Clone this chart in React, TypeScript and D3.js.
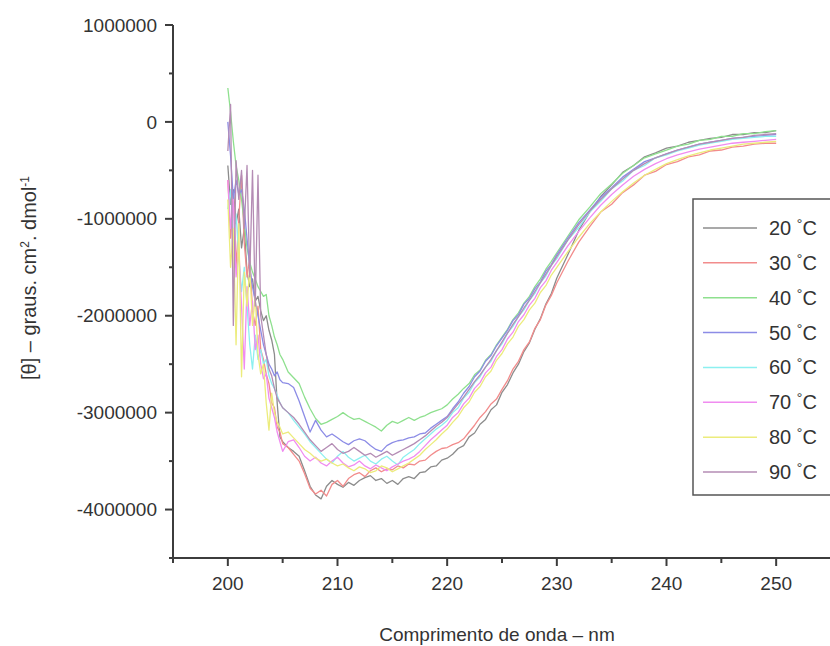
import React from "react";
import * as d3 from "d3";

// wavelength grid (nm)
const wavelengths = [
  200, 200.25, 200.5, 200.75, 201, 201.25, 201.5, 201.75, 202, 202.25,
  202.5, 202.75, 203, 203.25, 203.5, 203.75, 204, 204.25, 204.5, 204.75,
  205, 205.5, 206, 206.5, 207, 207.5, 208, 208.5, 209, 209.5,
  210, 210.5, 211, 211.5, 212, 212.5, 213, 213.5, 214, 214.5,
  215, 215.5, 216, 216.5, 217, 217.5, 218, 218.5, 219, 219.5,
  220, 220.5, 221, 221.5, 222, 222.5, 223, 223.5, 224, 224.5,
  225, 225.5, 226, 226.5, 227, 227.5, 228, 228.5, 229, 229.5,
  230, 231, 232, 233, 234, 235, 236, 237, 238, 239,
  240, 241, 242, 243, 244, 245, 246, 247, 248, 249,
  250,
];

// values in millions (x 1e6 deg cm2 dmol-1)
const UNIT = 1e6;

const t20 = [
  -0.45, -0.85, -0.7, -1.05, -0.9, -1.3, -1.1, -1.55, -1.7, -1.62,
  -1.85, -1.8, -1.95, -2.05, -2.0, -2.15, -2.25, -2.4, -2.9, -3.25,
  -3.3, -3.36, -3.4, -3.45, -3.6, -3.76, -3.85, -3.89, -3.76, -3.7,
  -3.74, -3.77, -3.72, -3.75, -3.7, -3.67, -3.65, -3.7, -3.68, -3.73,
  -3.7, -3.74, -3.68, -3.66, -3.68, -3.62, -3.61, -3.56, -3.55, -3.49,
  -3.47, -3.43, -3.37, -3.34, -3.25, -3.21, -3.12, -3.07, -2.97, -2.92,
  -2.79, -2.71, -2.59, -2.5, -2.37, -2.28, -2.14, -2.03, -1.88, -1.77,
  -1.61, -1.37, -1.12, -0.93, -0.77, -0.65, -0.52, -0.45, -0.36, -0.32,
  -0.27, -0.25, -0.21, -0.19, -0.17, -0.16, -0.13, -0.13, -0.11, -0.11,
  -0.09,
];
const t30 = [
  -0.6, -1.2, -0.75, -1.5, -1.0, -0.55, -1.25, -1.6, -1.4, -1.95,
  -2.1, -1.9, -2.35, -2.45, -2.6, -2.7, -2.9, -2.95, -3.15, -3.2,
  -3.32, -3.36, -3.43, -3.5, -3.63, -3.78, -3.84, -3.8, -3.86, -3.74,
  -3.7, -3.76, -3.68, -3.64, -3.62, -3.66, -3.6, -3.57, -3.61, -3.58,
  -3.59, -3.55, -3.57, -3.53, -3.54, -3.5, -3.49, -3.44, -3.4, -3.37,
  -3.36, -3.33, -3.31, -3.27, -3.2, -3.13, -3.05, -2.99, -2.91, -2.86,
  -2.76, -2.67, -2.55, -2.47, -2.35, -2.27, -2.13, -2.04, -1.89, -1.79,
  -1.66, -1.44, -1.24, -1.08, -0.93, -0.85, -0.73, -0.65, -0.55, -0.51,
  -0.44, -0.41, -0.36, -0.34, -0.3, -0.29, -0.26, -0.25, -0.23, -0.22,
  -0.22,
];
const t40 = [
  0.35, 0.1, -0.2, -0.45, -0.6, -0.8, -1.05, -1.3, -1.45, -1.55,
  -1.62, -1.7, -1.75, -1.8, -1.78, -2.0, -2.1, -2.22, -2.3, -2.4,
  -2.45, -2.58, -2.64, -2.7, -2.84, -2.96, -3.06, -3.12, -3.1, -3.07,
  -3.04, -3.0, -3.04, -3.07, -3.06, -3.09, -3.12, -3.15, -3.19, -3.13,
  -3.09, -3.11, -3.08, -3.05, -3.08, -3.05, -3.03, -3.0, -2.98, -2.96,
  -2.92, -2.86, -2.81, -2.75, -2.7, -2.61, -2.56, -2.46, -2.4, -2.3,
  -2.22, -2.14, -2.04, -1.97, -1.87, -1.8, -1.7, -1.62, -1.52, -1.44,
  -1.35, -1.18, -1.01, -0.88, -0.74, -0.64, -0.53, -0.45, -0.37, -0.33,
  -0.29, -0.25, -0.23, -0.19, -0.18, -0.15, -0.15, -0.12, -0.12, -0.1,
  -0.09,
];
const t50 = [
  0.0, -0.35, -0.8, -0.6, -0.75, -0.7, -0.9, -1.2, -1.5, -1.7,
  -1.85, -2.0, -2.15, -2.3, -2.4, -2.5, -2.55, -2.62, -2.58, -2.66,
  -2.69, -2.7, -2.74, -2.88, -3.04, -3.2, -3.08, -3.18, -3.25, -3.22,
  -3.26, -3.3, -3.33, -3.29, -3.27, -3.29, -3.34, -3.38, -3.4, -3.34,
  -3.31, -3.29, -3.28, -3.26, -3.25, -3.22, -3.21, -3.16, -3.12, -3.08,
  -3.04, -2.96, -2.89, -2.8, -2.73, -2.63, -2.57, -2.47, -2.41, -2.31,
  -2.23, -2.15, -2.05, -1.99, -1.88, -1.82, -1.72, -1.65, -1.54, -1.47,
  -1.37, -1.2, -1.04, -0.91, -0.78, -0.68, -0.57, -0.49, -0.41, -0.37,
  -0.33, -0.29, -0.26, -0.23, -0.21, -0.19, -0.17, -0.16, -0.15, -0.14,
  -0.13,
];
const t60 = [
  -0.9, -0.7, -1.2, -0.95, -1.4, -1.75, -1.5, -1.9, -2.3, -2.55,
  -2.2, -2.45, -2.35, -2.5, -2.45, -2.62, -2.7, -2.75, -2.82, -2.9,
  -2.95, -3.0, -3.08, -3.15, -3.22, -3.3, -3.36, -3.42, -3.48, -3.52,
  -3.45, -3.4, -3.46, -3.5, -3.47, -3.44, -3.5, -3.53, -3.48, -3.45,
  -3.5, -3.54, -3.46, -3.42, -3.38, -3.32, -3.27, -3.22, -3.17, -3.13,
  -3.08, -3.0, -2.95, -2.85, -2.79, -2.69, -2.63, -2.53, -2.47, -2.36,
  -2.29, -2.18, -2.11, -2.01, -1.94, -1.84, -1.77, -1.66, -1.59, -1.48,
  -1.41, -1.22, -1.09, -0.93, -0.82, -0.69, -0.61, -0.5, -0.45, -0.37,
  -0.34, -0.3, -0.27, -0.24, -0.22, -0.2, -0.18, -0.17, -0.16, -0.15,
  -0.15,
];
const t70 = [
  -0.6, -1.1, -0.8, -1.6, -1.3, -1.9, -2.55, -1.7, -2.1, -1.85,
  -2.35, -2.2, -2.5, -2.65, -2.6, -2.85, -2.95, -3.05, -3.2, -3.3,
  -3.4, -3.3, -3.28, -3.36, -3.45, -3.5, -3.46, -3.52, -3.55, -3.5,
  -3.46, -3.52, -3.56, -3.54, -3.5, -3.55, -3.58, -3.54, -3.57, -3.6,
  -3.56, -3.53, -3.5, -3.48, -3.45, -3.4, -3.34, -3.28, -3.23, -3.18,
  -3.13, -3.05, -3.0, -2.91, -2.85, -2.75, -2.69, -2.59, -2.53, -2.42,
  -2.35, -2.24, -2.17, -2.06, -1.99, -1.89, -1.82, -1.71, -1.64, -1.53,
  -1.45, -1.28, -1.13, -0.99, -0.86, -0.75, -0.65, -0.56, -0.49, -0.43,
  -0.38, -0.34, -0.31, -0.28, -0.26, -0.24, -0.22, -0.21, -0.2, -0.19,
  -0.18,
];
const t80 = [
  -0.8, -1.5, -1.1, -2.3, -1.05, -2.63, -1.55, -1.9, -1.5, -2.1,
  -1.8, -2.4, -2.6, -2.5, -2.9, -3.18, -2.8, -3.0, -3.1, -3.15,
  -3.22, -3.2, -3.26, -3.32, -3.38, -3.42, -3.47, -3.5, -3.48, -3.52,
  -3.55, -3.53, -3.57, -3.6, -3.56, -3.58, -3.62, -3.6, -3.55, -3.57,
  -3.61, -3.58, -3.55, -3.52, -3.48, -3.44, -3.38, -3.33, -3.28, -3.22,
  -3.17, -3.1, -3.04, -2.95, -2.89, -2.79, -2.73, -2.63, -2.57, -2.46,
  -2.39, -2.29, -2.22, -2.11, -2.04, -1.94, -1.87, -1.76, -1.69, -1.58,
  -1.5, -1.34, -1.19, -1.05, -0.93, -0.82, -0.72, -0.63, -0.55, -0.49,
  -0.43, -0.39, -0.35, -0.32, -0.29, -0.27, -0.25, -0.23, -0.22, -0.21,
  -0.2,
];
const t90 = [
  -0.3, 0.18, -2.1, -0.4, -0.8, -0.5, -1.1, -0.45, -1.6, -0.5,
  -1.9, -0.55, -2.0, -2.2, -2.4, -2.55, -2.62, -2.75, -2.85, -2.9,
  -2.95, -3.0, -3.05, -3.12, -3.2, -3.28, -3.34, -3.4, -3.36, -3.32,
  -3.38, -3.42, -3.4, -3.36, -3.4, -3.44, -3.42, -3.46, -3.43, -3.4,
  -3.44, -3.41, -3.38, -3.35, -3.32, -3.28, -3.24, -3.19, -3.14, -3.1,
  -3.05, -2.98, -2.91, -2.84, -2.76, -2.68, -2.61, -2.53, -2.45, -2.36,
  -2.27, -2.18, -2.09, -2.01, -1.92, -1.84, -1.75, -1.66, -1.57, -1.48,
  -1.39, -1.22, -1.06, -0.92, -0.8, -0.69, -0.59, -0.5, -0.43, -0.37,
  -0.33, -0.29, -0.26, -0.23, -0.21, -0.19, -0.17, -0.16, -0.14, -0.13,
  -0.12,
];

const seriesLabels = ["20", "30", "40", "50", "60", "70", "80", "90"];
const seriesValues = [t20, t30, t40, t50, t60, t70, t80, t90];
const seriesColors = [
  "#8c8c8c", "#f28c8c", "#8ee08e", "#8c8ce6",
  "#8cf0f0", "#f08cf0", "#ecec7c", "#b48cb4",
];

const xMajorTicks = [200, 210, 220, 230, 240, 250];
const xMinorTicks = [195, 205, 215, 225, 235, 245, 255];
const yMajorTicks = [1000000, 0, -1000000, -2000000, -3000000, -4000000];
const yMinorTicks = [500000, -500000, -1500000, -2500000, -3500000, -4500000];

const FONT = "'Liberation Sans', Arial, Helvetica, sans-serif";
const TEXT = "#333333";
const AXIS = "#3c3c3c";

export default function App() {
  const W = 830;
  const H = 646;
  const x = d3.scaleLinear().domain([195, 255]).range([173, 831]);
  const y = d3.scaleLinear().domain([-4500000, 1000000]).range([558, 25]);

  const line = d3
    .line<[number, number]>()
    .x((d) => x(d[0]))
    .y((d) => y(d[1] * UNIT));

  const legendRowY = d3
    .scalePoint<string>()
    .domain(seriesLabels)
    .range([228, 472]);

  return (
    <svg
      width={W}
      height={H}
      style={{ position: "absolute", left: 0, top: 0, background: "#fff" }}
      fontFamily={FONT}
    >
      <rect x={0} y={0} width={W} height={H} fill="#fff" />
      {/* curves */}
      <g fill="none" strokeWidth={1.3} strokeLinejoin="round">
        {seriesValues.map((vals, i) => {
          const pts: [number, number][] = wavelengths
            .map((w, j) => [w, vals[j]] as [number, number])
            .filter((p) => p[1] !== undefined);
          return (
            <path key={i} d={line(pts) || ""} stroke={seriesColors[i]} />
          );
        })}
      </g>

      {/* y axis */}
      <g stroke={AXIS} strokeWidth={2}>
        <line x1={173} x2={173} y1={y(1000000)} y2={y(-4500000)} />
        {yMajorTicks.map((t) => (
          <line key={t} x1={165} x2={173} y1={y(t)} y2={y(t)} />
        ))}
        {yMinorTicks.map((t) => (
          <line key={t} x1={169} x2={173} y1={y(t)} y2={y(t)} />
        ))}
      </g>
      <g fill={TEXT} fontSize={19} textAnchor="end">
        {yMajorTicks.map((t) => (
          <text key={t} x={157} y={y(t)} dy="0.35em">
            {String(t)}
          </text>
        ))}
      </g>

      {/* x axis */}
      <g stroke={AXIS} strokeWidth={2}>
        <line x1={172} x2={831} y1={558} y2={558} />
        {xMajorTicks.map((t) => (
          <line key={t} x1={x(t)} x2={x(t)} y1={558} y2={566} />
        ))}
        {xMinorTicks.map((t) => (
          <line key={t} x1={x(t)} x2={x(t)} y1={558} y2={563} />
        ))}
      </g>
      <g fill={TEXT} fontSize={19} textAnchor="middle">
        {xMajorTicks.map((t) => (
          <text key={t} x={x(t)} y={590}>
            {String(t)}
          </text>
        ))}
      </g>

      {/* axis titles */}
      <text x={497} y={641} fontSize={19} fill={TEXT} textAnchor="middle">
        Comprimento de onda – nm
      </text>
      <text
        transform="translate(36,278) rotate(-90)"
        fontSize={20}
        fill={TEXT}
        textAnchor="middle"
      >
        [θ] – graus. cm
        <tspan fontSize={12} dy={-7}>2</tspan>
        <tspan dy={7}>. dmol</tspan>
        <tspan fontSize={12} dy={-7}>-1</tspan>
      </text>

      {/* legend */}
      <rect
        x={693}
        y={199}
        width={160}
        height={296}
        fill="#fff"
        stroke="#555"
        strokeWidth={1.5}
      />
      {seriesLabels.map((lab, i) => {
        const ly = legendRowY(lab) as number;
        return (
          <g key={lab}>
            <line
              x1={703}
              x2={757}
              y1={ly}
              y2={ly}
              stroke={seriesColors[i]}
              strokeWidth={1.5}
            />
            <text x={769} y={ly} dy="0.35em" fontSize={20} fill={TEXT}>
              {lab + " "}
              <tspan fontSize={14} dy={-6}>°</tspan>
              <tspan dy={6}>C</tspan>
            </text>
          </g>
        );
      })}
    </svg>
  );
}
